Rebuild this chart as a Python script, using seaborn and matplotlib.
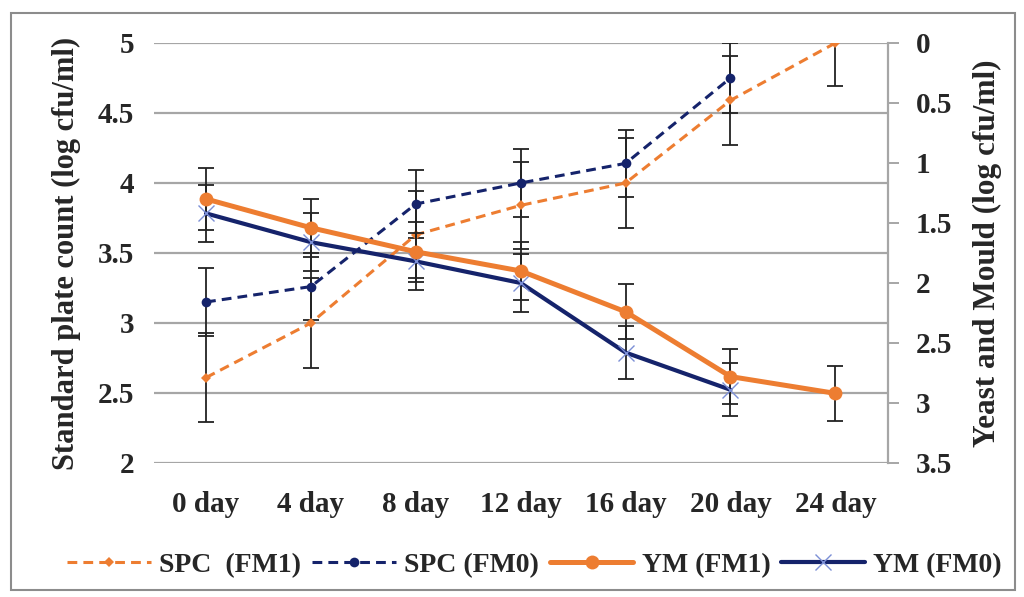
import numpy as np
import pandas as pd
import matplotlib
matplotlib.use("Agg")
import matplotlib.pyplot as plt
import seaborn as sns
from matplotlib.lines import Line2D
from matplotlib.patches import Rectangle

# data
days = ["0 day", "4 day", "8 day", "12 day", "16 day", "20 day", "24 day"]
spc_fm1 = [2.61, 3.00, 3.63, 3.84, 4.00, 4.59, 5.00]
spc_fm1_err = [0.32, 0.32, 0.31, 0.31, 0.32, 0.32, 0.31]
spc_fm0 = [3.15, 3.26, 3.85, 4.00, 4.14, 4.75]
spc_fm0_err = [0.24, 0.24, 0.24, 0.24, 0.24, 0.25]
ym_fm1 = [1.30, 1.54, 1.74, 1.90, 2.24, 2.78, 2.92]
ym_fm1_err = [0.26, 0.24, 0.25, 0.24, 0.23, 0.23, 0.23]
ym_fm0 = [1.42, 1.66, 1.82, 2.00, 2.58, 2.89]
ym_fm0_err = [0.24, 0.24, 0.24, 0.24, 0.22, 0.22]

ORANGE = "#ED7D31"
NAVY = "#15236B"
XBLUE = "#7C8FD6"
GRID = "#A6A6A6"

sns.set_style("white")
plt.rcParams["font.family"] = ["Liberation Serif", "DejaVu Serif"]
plt.rcParams["font.weight"] = "bold"

fig = plt.figure(figsize=(10.24, 5.97), dpi=100)
ax = fig.add_axes([0.150, 0.2245, 0.717, 0.7035])
ax2 = ax.twinx()

x_all = np.arange(len(days))


def frame(vals):
    return pd.DataFrame({"x": x_all[: len(vals)], "y": vals})


# SPC on the left axis
ax.errorbar(x_all[: len(spc_fm1)], spc_fm1, yerr=spc_fm1_err, fmt="none",
            ecolor="#222222", elinewidth=1.3, capsize=6, capthick=1.3, zorder=2)
ax.errorbar(x_all[: len(spc_fm0)], spc_fm0, yerr=spc_fm0_err, fmt="none",
            ecolor="#222222", elinewidth=1.3, capsize=6, capthick=1.3, zorder=2)
sns.lineplot(data=frame(spc_fm1), x="x", y="y", ax=ax, color=ORANGE, linewidth=2.2,
             linestyle=(0, (3.2, 2.0)), marker="D", markersize=5, markeredgewidth=0, zorder=3)
sns.lineplot(data=frame(spc_fm0), x="x", y="y", ax=ax, color=NAVY, linewidth=2.2,
             linestyle=(0, (3.2, 2.0)), marker="o", markersize=7, markeredgewidth=0, zorder=3)

# YM on the right (inverted) axis
ax2.errorbar(x_all[: len(ym_fm1)], ym_fm1, yerr=ym_fm1_err, fmt="none",
             ecolor="#222222", elinewidth=1.3, capsize=6, capthick=1.3, zorder=2)
ax2.errorbar(x_all[: len(ym_fm0)], ym_fm0, yerr=ym_fm0_err, fmt="none",
             ecolor="#222222", elinewidth=1.3, capsize=6, capthick=1.3, zorder=2)
sns.lineplot(data=frame(ym_fm0), x="x", y="y", ax=ax2, color=NAVY, linewidth=3.0,
             marker="x", markersize=11, markeredgewidth=1.0, markeredgecolor=XBLUE, zorder=3)
sns.lineplot(data=frame(ym_fm1), x="x", y="y", ax=ax2, color=ORANGE, linewidth=3.6,
             marker="o", markersize=10, markeredgewidth=0, zorder=4)

ax.set_xlim(-0.5, len(days) - 0.5)
ax.set_ylim(2, 5)
ax.set_yticks([2, 2.5, 3, 3.5, 4, 4.5, 5])
ax.set_yticklabels(["2", "2.5", "3", "3.5", "4", "4.5", "5"])
ax.yaxis.grid(True, color=GRID, linewidth=1.6)
ax.set_axisbelow(True)
ax.set_xticks(x_all)
ax.set_xticklabels(days)

ax2.set_ylim(3.5, 0)
ax2.set_yticks([0, 0.5, 1, 1.5, 2, 2.5, 3, 3.5])
ax2.set_yticklabels(["0", "0.5", "1", "1.5", "2", "2.5", "3", "3.5"])

for a in (ax, ax2):
    for s in a.spines.values():
        s.set_visible(False)
ax2.spines["right"].set_visible(True)
ax2.spines["right"].set_color(GRID)
ax2.spines["right"].set_linewidth(1.6)

ax.tick_params(axis="y", length=0, pad=14, labelsize=21)
ax.tick_params(axis="x", length=0, pad=20, labelsize=21)
ax2.tick_params(axis="y", length=8, width=1.4, color=GRID, pad=12, labelsize=21)

ax.set_xlabel("")
ax.set_ylabel("Standard plate count (log cfu/ml)", fontsize=22, fontweight="bold", labelpad=12)
ax2.set_ylabel("Yeast and Mould (log cfu/ml)", fontsize=22.5, fontweight="bold", labelpad=15)

handles = [
    Line2D([], [], color=ORANGE, linewidth=2.2, linestyle=(0, (3.2, 2.0)), marker="D",
           markersize=5, markeredgewidth=0),
    Line2D([], [], color=NAVY, linewidth=2.2, linestyle=(0, (3.2, 2.0)), marker="o",
           markersize=7, markeredgewidth=0),
    Line2D([], [], color=ORANGE, linewidth=3.6, marker="o", markersize=10, markeredgewidth=0),
    Line2D([], [], color=NAVY, linewidth=3.0, marker="x", markersize=11,
           markeredgewidth=1.0, markeredgecolor=XBLUE),
]
labels = ["SPC  (FM1)", "SPC (FM0)", "YM (FM1)", "YM (FM0)"]
fig.legend(handles, labels, loc="center", bbox_to_anchor=(0.522, 0.053), ncol=4,
           frameon=False, handlelength=3.0, handletextpad=0.3, columnspacing=0.4,
           prop={"family": "Liberation Serif", "weight": "bold", "size": 20})

fig.patches.append(Rectangle((0.011, 0.012), 0.98, 0.967, transform=fig.transFigure,
                             fill=False, edgecolor="#8C8C8C", linewidth=1.5))

fig.savefig("out.png", dpi=100)
